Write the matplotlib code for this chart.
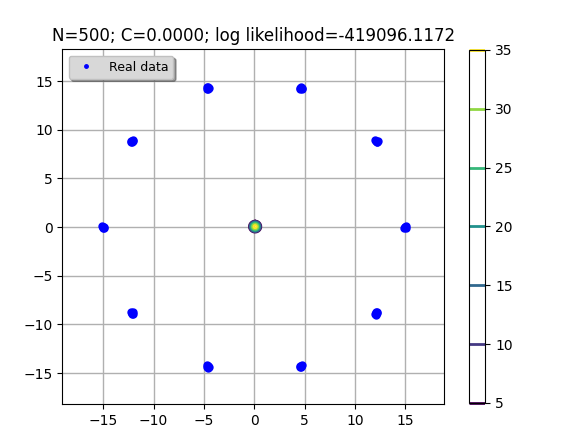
import numpy as np
import matplotlib
matplotlib.use("Agg")
import matplotlib.pyplot as plt

# Real data: 10 tight clusters on a circle of radius 15
data_x = [
    15.0, 15.1, 14.9, 15.05, 14.95, 15.0,
    12.1, 12.2, 12.0, 12.15, 12.25, 12.05,
    4.6, 4.7, 4.5, 4.65, 4.55, 4.75,
    -4.6, -4.7, -4.5, -4.65, -4.55, -4.6,
    -12.1, -12.2, -12.0, -12.15, -12.25, -12.05,
    -15.0, -15.1, -14.9, -15.05, -14.95, -15.0,
    -12.1, -12.2, -12.0, -12.15, -12.05, -12.1,
    -4.6, -4.7, -4.5, -4.65, -4.55, -4.6,
    4.6, 4.7, 4.5, 4.65, 4.55, 4.6,
    12.1, 12.2, 12.0, 12.15, 12.05, 12.1,
]
data_y = [
    0.0, 0.1, -0.05, -0.1, 0.05, 0.0,
    8.8, 8.7, 8.9, 8.75, 8.85, 8.8,
    14.3, 14.2, 14.25, 14.35, 14.15, 14.3,
    14.3, 14.2, 14.25, 14.35, 14.15, 14.4,
    8.8, 8.7, 8.9, 8.75, 8.85, 8.8,
    0.0, 0.1, -0.05, -0.1, 0.05, 0.0,
    -8.8, -8.7, -8.9, -8.85, -8.75, -8.95,
    -14.3, -14.2, -14.4, -14.35, -14.25, -14.5,
    -14.3, -14.2, -14.4, -14.35, -14.25, -14.3,
    -8.8, -8.7, -8.9, -8.85, -8.75, -9.0,
]

# Fitted model (single tight component near the origin) for the contour
model_mean = [0.08, 0.05]
model_scale = [0.6, 0.6]
contour_levels = [5, 10, 15, 20, 25, 30, 35]
title = "N=500; C=0.0000; log likelihood=-419096.1172"

fig = plt.figure(figsize=(5.86, 4.44), dpi=100)
ax = fig.add_axes([0.1063, 0.0894, 0.6514, 0.7996])
cax = fig.add_axes([0.7998, 0.0925, 0.0283, 0.795])

gx = np.linspace(-1.5, 1.5, 301)
gy = np.linspace(-1.5, 1.5, 301)
GX, GY = np.meshgrid(gx, gy)
R2 = ((GX - model_mean[0]) / model_scale[0]) ** 2 + ((GY - model_mean[1]) / model_scale[1]) ** 2
Z = (contour_levels[-1] + 2) - (contour_levels[-1] + 2 - contour_levels[0]) * R2

ax.plot(data_x, data_y, "o", color="blue", markersize=5, label="Real data", zorder=2)
CS = ax.contour(GX, GY, Z, levels=contour_levels, cmap="viridis", linewidths=1.5, zorder=3)

ax.set_xlim(-19.07, 18.84)
ax.set_ylim(-18.2, 18.26)
ax.set_xticks([-15, -10, -5, 0, 5, 10, 15])
ax.set_yticks([-15, -10, -5, 0, 5, 10, 15])
ax.grid(True, color="#b0b0b0", linewidth=1)
ax.set_axisbelow(True)
ax.set_title(title, fontsize=12)

leg = ax.legend(loc="upper left", fontsize=9, shadow=True, fancybox=True,
                numpoints=1, markerscale=0.5, framealpha=1)
leg.get_frame().set_facecolor("#d8d8d8")
leg.get_frame().set_edgecolor("#c0c0c0")

cb = fig.colorbar(CS, cax=cax)
cb.set_ticks(contour_levels)
for coll in cax.collections:
    coll.set_linewidth(2)
    coll.set_clip_on(True)

fig.savefig("out.png", dpi=100)
